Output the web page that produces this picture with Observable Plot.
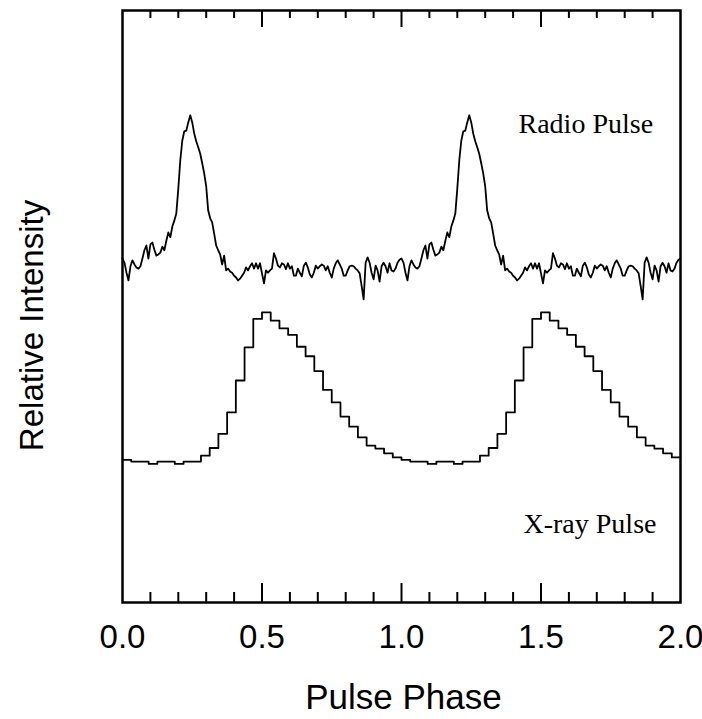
<!DOCTYPE html>
<html>
<head>
<meta charset="utf-8">
<script src="https://cdn.jsdelivr.net/npm/d3@7"></script>
<script src="https://cdn.jsdelivr.net/npm/@observablehq/plot@0.6"></script>
<style>
  html, body { margin: 0; padding: 0; background: #fff; }
  #chart svg { display: block; }
</style>
</head>
<body>
<div id="chart"></div>
<script>
// ---- Data ----
// Radio pulse profile: one cycle, uniformly sampled in phase (plotted twice)
const radioCycle = [
  58.1, 57.4, 55.7, 54.4, 56.8, 57.8, 57.1, 56.6, 56.4, 56.8,
  58.1, 59.5, 60.3, 58.1, 60.5, 60.8, 59.6, 58.6, 58.8, 59.1,
  60.1, 59.5, 61.1, 62.5, 61.7, 63.5, 64.5, 65.7, 69.9, 74.7,
  78.0, 79.6, 79.7, 81.1, 82.3, 81.1, 79.2, 77.9, 76.9, 75.8,
  74.2, 72.5, 70.3, 66.2, 64.9, 64.2, 62.3, 60.3, 59.5, 58.8,
  57.1, 58.6, 56.1, 56.4, 55.9, 55.7, 55.2, 54.9, 54.4, 54.7,
  55.2, 55.7, 56.6, 56.1, 56.8, 57.3, 56.4, 57.3, 56.4, 57.3,
  55.6, 53.9, 56.1, 55.7, 56.1, 56.4, 59.0, 58.1, 56.9, 56.6,
  57.3, 57.1, 56.3, 57.3, 56.4, 56.8, 55.2, 55.2, 56.4, 55.7,
  55.1, 56.9, 57.4, 56.6, 55.4, 54.9, 55.7, 56.9, 56.4, 56.8,
  57.1, 56.9, 56.1, 56.8, 55.7, 54.9, 56.4, 57.3, 57.8, 57.1,
  56.4, 55.2, 55.2, 56.1, 56.8, 56.9, 56.8, 56.4, 56.1, 55.6,
  53.5, 51.2, 57.4, 58.3, 57.4, 55.7, 54.6, 56.9, 56.1, 54.2,
  56.8, 57.4, 56.8, 55.7, 57.3, 56.1, 55.9, 56.4, 57.4, 57.9
];
// X-ray pulse profile: one cycle of 32 phase bins (plotted twice)
const xrayCycle = [
  24.1, 23.8, 23.8, 23.4, 23.8, 23.8, 23.4, 23.8,
  23.8, 24.8, 26.1, 28.5, 32.1, 37.5, 43.1, 47.9,
  49.0, 47.6, 46.3, 45.2, 43.2, 41.6, 39.1, 35.9,
  33.8, 31.4, 29.7, 27.9, 26.5, 26.0, 25.2, 24.5
];
const cycles = [0, 1];
const xTickLabels = [0, 0.5, 1.0, 1.5, 2.0];
const majorTicks = [0.5, 1.0, 1.5];
const minorTicks = [0.1, 0.2, 0.3, 0.4, 0.6, 0.7, 0.8, 0.9, 1.1, 1.2, 1.3, 1.4, 1.6, 1.7, 1.8, 1.9];
const xTitle = "Pulse Phase";
const yTitle = "Relative Intensity";
const radioLabel = "Radio Pulse";
const xrayLabel = "X-ray Pulse";

// ---- Build tables ----
const radioData = [];
for (const c of cycles) radioCycle.forEach((v, i) => radioData.push({phase: c + i / radioCycle.length, v}));
radioData.push({phase: 2, v: radioCycle[0]});
const xrayData = [];
for (const c of cycles) xrayCycle.forEach((v, i) => xrayData.push({phase: c + i / xrayCycle.length, v}));
xrayData.push({phase: 2, v: xrayCycle[xrayCycle.length - 1]});

const W = 702, H = 719, mT = 10, mB = 117, mL = 122, mR = 22;
const innerH = H - mT - mB;
const sans = "'Liberation Sans', Arial, Helvetica, sans-serif";
const serif = "'Liberation Serif', 'Times New Roman', Times, serif";

const chart = Plot.plot({
  width: W, height: H,
  marginTop: mT, marginBottom: mB, marginLeft: mL, marginRight: mR,
  style: {background: "#fff", color: "#000"},
  x: {domain: [0, 2]},
  y: {domain: [0, 100], axis: null},
  marks: [
    Plot.line(radioData, {x: "phase", y: "v", stroke: "#000", strokeWidth: 1.8, strokeLinejoin: "round"}),
    Plot.line(xrayData, {x: "phase", y: "v", stroke: "#000", strokeWidth: 1.8, curve: "step-after"}),
    // bottom ticks (inward)
    Plot.tickX(minorTicks, {x: d => d, insetTop: innerH - 10, stroke: "#000", strokeWidth: 2}),
    Plot.tickX(majorTicks, {x: d => d, insetTop: innerH - 19, stroke: "#000", strokeWidth: 2}),
    // top ticks (inward)
    Plot.tickX(minorTicks, {x: d => d, insetBottom: innerH - 8, stroke: "#000", strokeWidth: 2}),
    Plot.tickX(majorTicks, {x: d => d, insetBottom: innerH - 17, stroke: "#000", strokeWidth: 2}),
    Plot.frame({stroke: "#000", strokeWidth: 2.5}),
    Plot.axisX({ticks: xTickLabels, tickSize: 0, tickPadding: 22, tickFormat: d => d.toFixed(1),
      fontSize: 33, fontFamily: sans, fill: "#000", label: null}),
    Plot.text([xTitle], {text: d => d, frameAnchor: "bottom", dx: 2, dy: 95, textAnchor: "middle", lineAnchor: "middle",
      fontSize: 35, fontFamily: sans, fill: "#000"}),
    Plot.text([yTitle], {text: d => d, frameAnchor: "left", dx: -90, dy: 19, rotate: -90,
      textAnchor: "middle", lineAnchor: "middle", fontSize: 33, fontFamily: sans, fill: "#000"}),
    Plot.text([radioLabel], {text: d => d, frameAnchor: "top-left", dx: 396, dy: 114, textAnchor: "start",
      lineAnchor: "middle", fontSize: 28, fontFamily: serif, fill: "#000"}),
    Plot.text([xrayLabel], {text: d => d, frameAnchor: "top-left", dx: 401, dy: 514, textAnchor: "start",
      lineAnchor: "middle", fontSize: 28, fontFamily: serif, fill: "#000"})
  ]
});
document.getElementById("chart").appendChild(chart);
</script>
</body>
</html>
